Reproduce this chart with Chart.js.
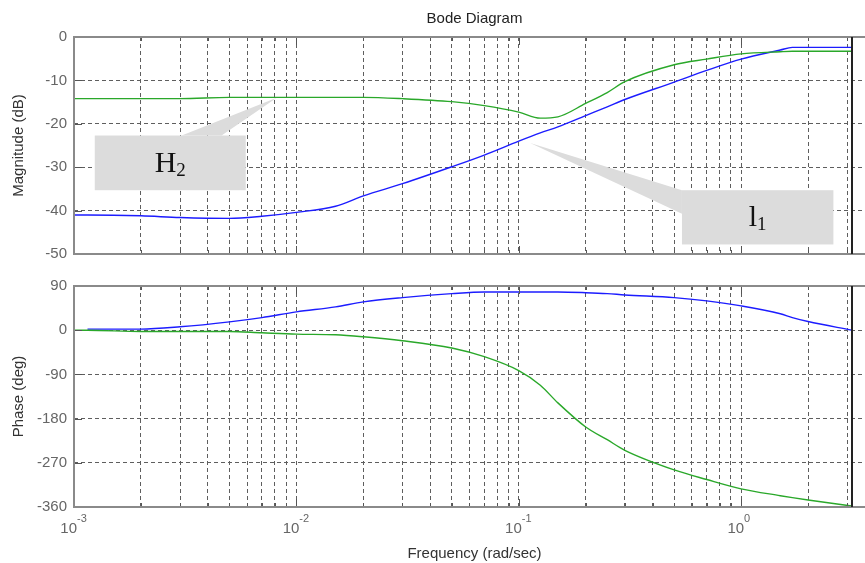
<!DOCTYPE html>
<html lang="en">
<head>
<meta charset="UTF-8">
<title>Bode Diagram</title>
<script src="https://cdn.jsdelivr.net/npm/chart.js@4.4.1/dist/chart.umd.min.js"></script>
<style>
  html, body { margin: 0; padding: 0; background: #fff; overflow: hidden; }
  #wrap { position: relative; width: 865px; height: 563px; overflow: hidden; }
  #wrap canvas { position: absolute; left: 0; }
  #magChart { top: 0; }
  #phaseChart { top: 270px; }
</style>
</head>
<body>
<div id="wrap">
  <canvas id="magChart" width="880" height="270"></canvas>
  <canvas id="phaseChart" width="880" height="293"></canvas>
</div>
<script>
// frequency points (rad/sec)
const freq    = [0.001, 0.00115, 0.002, 0.003, 0.005, 0.007, 0.01, 0.015, 0.02, 0.03, 0.05, 0.07, 0.1, 0.125, 0.15, 0.2, 0.25, 0.3, 0.5, 0.7, 1, 1.5, 1.7, 2, 3.14];
const magL1   = [-41.0, -41.0, -41.2, -41.6, -41.8, -41.3, -40.4, -39.0, -36.6, -33.8, -29.9, -27.2, -24.0, -22.1, -20.7, -18.1, -16.1, -14.4, -10.4, -7.7, -5.1, -3.0, -2.4, -2.4, -2.4];
const magH2   = [-14.2, -14.2, -14.2, -14.2, -13.9, -13.9, -13.9, -13.9, -13.9, -14.2, -14.9, -15.8, -17.3, -18.7, -18.4, -15.3, -12.8, -10.3, -6.4, -5.1, -3.9, -3.4, -3.3, -3.3, -3.3];
const phaseL1 = [null, 2.2, 2.2, 6.9, 17, 25.7, 37.3, 47.4, 57.6, 66.3, 74.4, 77.8, 77.8, 77.8, 77.8, 76.4, 74.5, 71.8, 66.3, 59.6, 49.5, 33.5, 25.7, 17.6, 0.2];
const phaseH2 = [0, 0, -2.6, -2.6, -2.6, -5.3, -8, -9.3, -13.4, -21.5, -36.3, -53.9, -82.3, -112, -148, -197, -223, -244.5, -284.4, -304, -323, -337, -341, -345.8, -358];

const decades = [0.001, 0.01, 0.1, 1];
const decadeExp = ['-3', '-2', '-1', '0'];
const magTicks = [0, -10, -20, -30, -40, -50];
const phaseTicks = [90, 0, -90, -180, -270, -360];
const stopFreq = 3.14;

const xMin = 0.001, xMax = 4;
const gridFreqs = [];
decades.forEach(d => {
  for (let k = 1; k <= 9; k++) if (d * k <= xMax) gridFreqs.push(+(d * k).toPrecision(3));
});

const sans = "'Liberation Sans', Arial, sans-serif";
const serif = "'Liberation Serif', 'Times New Roman', serif";
const gridColor = '#5e5e5e';
const blue = '#1c1cff';
const green = '#2aa82a';

// callouts, placed in data coordinates (freq, dB)
const callouts = [
  { text: 'H', sub: '2', box: [0.00124, 0.00592, -22.7, -35.3], base: [[0.00305, -22.7], [0.00461, -22.7]], tip: [0.00816, -14.0] },
  { text: 'l', sub: '1', box: [0.542, 2.6, -35.3, -47.8], base: [[0.542, -35.3], [0.542, -40.7]], tip: [0.1125, -24.4] }
];

function points(ys) {
  return freq.map((f, i) => ({ x: f, y: ys[i] }));
}

function line(ys, color) {
  return {
    data: points(ys),
    borderColor: color,
    borderWidth: 1.4,
    pointRadius: 0,
    cubicInterpolationMode: 'monotone',
    spanGaps: false
  };
}

function xAxis(withLabels) {
  return {
    type: 'logarithmic',
    min: xMin,
    max: xMax,
    afterBuildTicks: s => { s.ticks = gridFreqs.map(v => ({ value: v })); },
    ticks: { display: false },
    grid: { color: gridColor, lineWidth: 1, drawTicks: false },
    border: { display: false, dash: [4, 3] },
    title: {
      display: withLabels,
      text: 'Frequency (rad/sec)',
      color: '#333',
      font: { family: sans, size: 15 },
      padding: { top: 0, bottom: 0 }
    },
    afterFit: s => { s.height = withLabels ? 56 : 0; }
  };
}

function yAxis(min, max, tickVals, label) {
  return {
    min: min,
    max: max,
    afterBuildTicks: s => { s.ticks = tickVals.map(v => ({ value: v })); },
    ticks: { color: '#666', font: { family: sans, size: 15 }, padding: 7 },
    grid: { color: gridColor, lineWidth: 1, drawTicks: false },
    border: { display: false, dash: [4, 3] },
    title: {
      display: true,
      text: label,
      color: '#333',
      font: { family: sans, size: 15 },
      padding: { top: 10, bottom: 0 }
    },
    afterFit: s => { s.width = 74; }
  };
}

// MATLAB style box, inner tick marks, end-of-data marker, title and decade labels
const matlabAxes = {
  id: 'matlabAxes',
  afterDatasetsDraw(chart, args, opts) {
    if (!opts.callouts) return;
    const { ctx, scales: { x, y } } = chart;
    ctx.save();
    opts.callouts.forEach(c => {
      const X = v => x.getPixelForValue(v), Y = v => y.getPixelForValue(v);
      const x0 = X(c.box[0]), x1 = X(c.box[1]), y0 = Y(c.box[2]), y1 = Y(c.box[3]);
      ctx.fillStyle = '#dcdcdc';
      ctx.beginPath();
      ctx.moveTo(X(c.base[0][0]), Y(c.base[0][1]));
      ctx.lineTo(X(c.tip[0]), Y(c.tip[1]));
      ctx.lineTo(X(c.base[1][0]), Y(c.base[1][1]));
      ctx.closePath();
      ctx.fill();
      ctx.fillRect(x0, y0, x1 - x0, y1 - y0);
      ctx.fillStyle = '#111';
      ctx.textBaseline = 'alphabetic';
      ctx.textAlign = 'left';
      ctx.font = '30px ' + serif;
      const w1 = ctx.measureText(c.text).width;
      ctx.font = '19px ' + serif;
      const w2 = ctx.measureText(c.sub).width;
      const cx = (x0 + x1) / 2, cy = (y0 + y1) / 2;
      const sx = cx - (w1 + w2) / 2;
      ctx.font = '30px ' + serif;
      ctx.fillText(c.text, sx, cy + 9);
      ctx.font = '19px ' + serif;
      ctx.fillText(c.sub, sx + w1, cy + 13);
    });
    ctx.restore();
  },
  afterDraw(chart, args, opts) {
    const { ctx, chartArea: a, scales: { x, y } } = chart;
    ctx.save();
    ctx.strokeStyle = '#555';
    ctx.lineWidth = 1;
    ctx.beginPath();
    x.ticks.forEach(t => {
      const px = Math.round(x.getPixelForValue(t.value)) + 0.5;
      const len = decades.includes(t.value) ? 8 : 4;
      ctx.moveTo(px, a.top); ctx.lineTo(px, a.top + len);
      ctx.moveTo(px, a.bottom); ctx.lineTo(px, a.bottom - len);
    });
    y.ticks.forEach(t => {
      const py = Math.round(y.getPixelForValue(t.value)) + 0.5;
      ctx.moveTo(a.left, py); ctx.lineTo(a.left + 8, py);
    });
    ctx.stroke();

    ctx.strokeStyle = '#8a8a8a';
    ctx.lineWidth = 2;
    ctx.strokeRect(a.left, a.top, a.right - a.left, a.bottom - a.top);

    const ex = Math.round(x.getPixelForValue(stopFreq));
    ctx.strokeStyle = '#222';
    ctx.lineWidth = 2;
    ctx.beginPath();
    ctx.moveTo(ex, a.top); ctx.lineTo(ex, a.bottom);
    ctx.stroke();

    if (opts.title) {
      ctx.fillStyle = '#222';
      ctx.font = '15px ' + sans;
      ctx.textAlign = 'center';
      ctx.textBaseline = 'middle';
      ctx.fillText(opts.title, (a.left + a.right) / 2, a.top - 18);
    }

    if (opts.decadeLabels) {
      ctx.fillStyle = '#666';
      ctx.textBaseline = 'middle';
      decades.forEach((d, i) => {
        const px = x.getPixelForValue(d);
        ctx.font = '15px ' + sans;
        ctx.textAlign = 'right';
        ctx.fillText('10', px + 3, a.bottom + 22);
        ctx.font = '11px ' + sans;
        ctx.textAlign = 'left';
        ctx.fillText(decadeExp[i], px + 3, a.bottom + 12);
      });
    }
    ctx.restore();
  }
};

const common = {
  responsive: false,
  animation: false,
  devicePixelRatio: 1,
  events: []
};

new Chart(document.getElementById('magChart'), {
  type: 'line',
  data: { datasets: [line(magH2, green), line(magL1, blue)] },
  options: {
    ...common,
    layout: { padding: { top: 37, right: 5, bottom: 8, left: 0 } },
    scales: { x: xAxis(false), y: yAxis(-50, 0, magTicks, 'Magnitude (dB)') },
    plugins: {
      legend: { display: false },
      tooltip: { enabled: false },
      matlabAxes: { title: 'Bode Diagram', callouts: callouts }
    }
  },
  plugins: [matlabAxes]
});

new Chart(document.getElementById('phaseChart'), {
  type: 'line',
  data: { datasets: [line(phaseH2, green), line(phaseL1, blue)] },
  options: {
    ...common,
    layout: { padding: { top: 15, right: 5, bottom: 0, left: 0 } },
    scales: { x: xAxis(true), y: yAxis(-360, 90, phaseTicks, 'Phase (deg)') },
    plugins: {
      legend: { display: false },
      tooltip: { enabled: false },
      matlabAxes: { decadeLabels: true }
    }
  },
  plugins: [matlabAxes]
});
</script>
</body>
</html>
